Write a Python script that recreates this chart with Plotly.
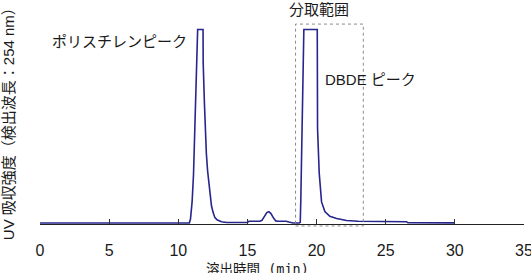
import plotly.graph_objects as go

# elution time (min) and UV intensity (clipped at 100, arbitrary units)
time_min = [0, 10.8, 10.88, 11.0, 11.1, 11.17, 11.26, 11.4, 11.79, 11.8, 11.89, 11.95,
            12.03, 12.12, 12.22, 12.3, 12.4, 12.5, 12.64, 12.8, 13.12, 13.5, 15.0, 15.1,
            15.9, 16.05, 16.2, 16.4, 16.55, 16.7, 16.9, 17.05, 17.2, 17.8, 18.0, 18.3,
            18.75, 18.82, 18.86, 18.99, 19.08, 20.05, 20.07, 20.19, 20.36, 20.6, 20.96,
            21.45, 22.17, 23.0, 26.5, 26.6, 30.0]
intensity = [0.1, 0.1, 2, 11, 25, 41, 72, 100, 100, 83, 62, 50,
             36, 27, 19, 13, 9, 6, 3, 1.8, 0.8, 0.4, 0.4, 1.0,
             1.0, 1.5, 3, 5.5, 6, 5, 2.5, 1.2, 1.0, 1.0, 0.6, 0.1,
             0.1, 0.5, 12, 79, 100, 100, 49, 26, 11, 6, 3.6,
             2.4, 1.4, 1.0, 0.8, 0.3, 0.2]

x_ticks = [0, 5, 10, 15, 20, 25, 30, 35]
fraction_range = [18.48, 23.38]

x_title = "溶出時間 (min)"
y_title = "UV 吸収強度（検出波長：254 nm）"
label_ps = "ポリスチレンピーク"
label_frac = "分取範囲"
label_dbde = "DBDE ピーク"

FONT = "Liberation Sans, Arial, Noto Sans CJK JP"
MONO = "DejaVu Sans Mono, Noto Sans CJK JP"
TXT = "#1a1a1a"

fig = go.Figure()
fig.add_trace(go.Scatter(x=time_min, y=intensity, mode="lines",
                         line=dict(color="#26268c", width=1.6), hoverinfo="skip"))

fig.add_shape(type="rect", xref="x", yref="paper",
              x0=fraction_range[0], x1=fraction_range[1], y0=-0.01, y1=1.02,
              line=dict(color="#8a8a8a", width=1, dash="dot"))

fig.add_annotation(x=5.75, y=0.985, xref="x", yref="paper", text=label_ps,
                   showarrow=False, font=dict(size=15, color=TXT, family=FONT))
fig.add_annotation(x=20.2, y=1.147, xref="x", yref="paper", text=label_frac,
                   showarrow=False, font=dict(size=15, color=TXT, family=FONT))
fig.add_annotation(x=23.9, y=0.79, xref="x", yref="paper", text=label_dbde,
                   showarrow=False, font=dict(size=15, color=TXT, family=FONT))
fig.add_annotation(x=-0.066, y=0.53, xref="paper", yref="paper", text=y_title,
                   textangle=-90, showarrow=False, xanchor="center", yanchor="middle",
                   font=dict(size=15, color=TXT, family=FONT))
fig.add_annotation(x=0.449, y=-0.18, xref="paper", yref="paper", text=x_title,
                   showarrow=False, xanchor="center", yanchor="top",
                   font=dict(size=13.5, color=TXT, family=MONO))

fig.update_layout(
    width=531, height=273,
    margin=dict(l=40, r=7, t=28, b=49, autoexpand=False),
    paper_bgcolor="white", plot_bgcolor="white",
    showlegend=False,
    font=dict(family=FONT, size=15, color=TXT),
    xaxis=dict(range=[0, 35], tickvals=x_ticks, ticks="inside", ticklen=5,
               tickcolor="#333", showline=True, linecolor="#222", linewidth=1,
               showgrid=False, zeroline=False, tickfont=dict(size=16, color=TXT),
               ticklabelstandoff=12, ticklabeloverflow="allow", automargin=False),
    yaxis=dict(range=[-0.4, 100.8], showticklabels=False, showgrid=False,
               zeroline=False, showline=False, ticks="", automargin=False),
)

fig.write_html("out.html")
